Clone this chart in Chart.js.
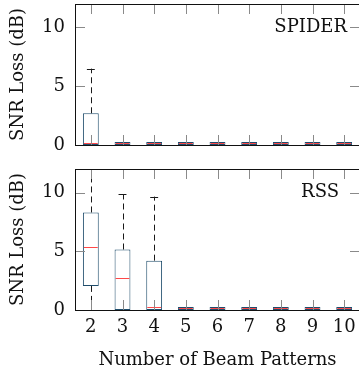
<!DOCTYPE html>
<html>
<head>
<meta charset="utf-8">
<script src="https://cdn.jsdelivr.net/npm/chart.js@4.4.1/dist/chart.umd.min.js"></script>
<style>
  html, body { margin: 0; padding: 0; background: #fff; overflow: hidden; }
  #wrap { position: relative; width: 359px; height: 372px; overflow: hidden; }
  canvas { position: absolute; left: 0; }
  #spider { top: 0; }
  #rss { top: 160px; }
</style>
</head>
<body>
<div id="wrap">
  <canvas id="spider" width="362" height="160"></canvas>
  <canvas id="rss" width="362" height="212"></canvas>
</div>
<script>
const beamCounts = ["2", "3", "4", "5", "6", "7", "8", "9", "10"];
const yTicks = [0, 5, 10];

// SPIDER box statistics (dB)
const spiderQ1     = [0, 0, 0, 0, 0, 0, 0, 0, 0];
const spiderQ3     = [2.7, 0.25, 0.25, 0.25, 0.25, 0.25, 0.25, 0.25, 0.25];
const spiderMedian = [0, 0, 0, 0, 0, 0, 0, 0, 0];
const spiderLo     = [0, 0, 0, 0, 0, 0, 0, 0, 0];
const spiderHi     = [6.5, 0.25, 0.25, 0.25, 0.25, 0.25, 0.25, 0.25, 0.25];

// RSS box statistics (dB)
const rssQ1     = [2.05, 0, 0, 0, 0, 0, 0, 0, 0];
const rssQ3     = [8.3, 5.15, 4.2, 0.25, 0.25, 0.25, 0.25, 0.25, 0.25];
const rssMedian = [5.35, 2.7, 0.22, 0, 0, 0, 0, 0, 0];
const rssLo     = [0, 0, 0, 0, 0, 0, 0, 0, 0];
const rssHi     = [13.5, 9.85, 9.65, 0.25, 0.25, 0.25, 0.25, 0.25, 0.25];

const SERIF = "'DejaVu Serif', 'Liberation Serif', serif";
Chart.defaults.font.family = SERIF;
Chart.defaults.font.size = 18;
Chart.defaults.color = "#111";

const BOX = "#1f4d6c";
const MED = "#ff4848";
const TICK = "#8a8a8a";

// medians, dashed whiskers, frame, inward ticks and panel name
const boxDecor = {
  id: "boxDecor",
  afterDatasetsDraw(chart, args, o) {
    const { ctx, chartArea: a } = chart;
    const xs = chart.scales.x, ys = chart.scales.y;
    const bars = chart.getDatasetMeta(0).data;
    const px = v => Math.round(v) + 0.5;

    ctx.save();
    ctx.beginPath();
    ctx.rect(a.left, a.top, a.right - a.left, a.bottom - a.top);
    ctx.clip();
    ctx.lineWidth = 1;
    o.median.forEach((m, i) => {
      const x = xs.getPixelForValue(i);
      const hw = bars[i].width / 2;
      const top = ys.getPixelForValue(o.q3[i]);
      const bot = ys.getPixelForValue(o.q1[i]);
      // whiskers
      ctx.strokeStyle = "#1a1a1a";
      ctx.setLineDash([6, 4]);
      if (o.hi[i] > o.q3[i]) {
        ctx.beginPath();
        ctx.moveTo(px(x), top);
        ctx.lineTo(px(x), ys.getPixelForValue(o.hi[i]));
        ctx.stroke();
      }
      if (o.lo[i] < o.q1[i]) {
        ctx.beginPath();
        ctx.moveTo(px(x), bot);
        ctx.lineTo(px(x), ys.getPixelForValue(o.lo[i]));
        ctx.stroke();
      }
      ctx.setLineDash([]);
      if (o.hi[i] > o.q3[i]) {
        const y = px(ys.getPixelForValue(o.hi[i]));
        ctx.beginPath();
        ctx.moveTo(x - hw / 2, y);
        ctx.lineTo(x + hw / 2, y);
        ctx.stroke();
      }
      // median
      ctx.strokeStyle = MED;
      const ym = Math.min(px(ys.getPixelForValue(o.median[i])), Math.floor(a.bottom) - 1.5);
      ctx.beginPath();
      ctx.moveTo(x - hw + 1, ym);
      ctx.lineTo(x + hw - 1, ym);
      ctx.stroke();
    });
    ctx.restore();

    ctx.save();
    ctx.lineWidth = 1;
    ctx.strokeStyle = TICK;
    beamCounts.forEach((_, i) => {
      const x = px(xs.getPixelForValue(i));
      ctx.beginPath();
      ctx.moveTo(x, a.top); ctx.lineTo(x, a.top + 10);
      ctx.moveTo(x, a.bottom); ctx.lineTo(x, a.bottom - 10);
      ctx.stroke();
    });
    yTicks.forEach(v => {
      const y = px(ys.getPixelForValue(v));
      ctx.beginPath();
      ctx.moveTo(a.left, y); ctx.lineTo(a.left + 10, y);
      ctx.moveTo(a.right, y); ctx.lineTo(a.right - 10, y);
      ctx.stroke();
    });
    ctx.strokeStyle = "#111";
    ctx.strokeRect(px(a.left), px(a.top), Math.round(a.right - a.left), Math.round(a.bottom - a.top));

    ctx.fillStyle = "#111";
    ctx.font = "18px " + SERIF;
    ctx.textAlign = "right";
    ctx.textBaseline = "middle";
    ctx.fillText(o.label, a.right - o.inset, ys.getPixelForValue(10));
    ctx.restore();
  }
};

function panel(id, q1, q3, median, lo, hi, label, inset, withAxis) {
  return new Chart(document.getElementById(id), {
    type: "bar",
    data: {
      labels: beamCounts,
      datasets: [{
        data: q1.map((v, i) => [v, q3[i]]),
        backgroundColor: "#ffffff",
        borderColor: BOX,
        borderWidth: 1,
        borderSkipped: false,
        barPercentage: 0.5,
        categoryPercentage: 1
      }]
    },
    options: {
      responsive: false,
      animation: false,
      devicePixelRatio: 1,
      layout: { padding: { left: 0, right: 2, top: withAxis ? 9 : 4, bottom: withAxis ? 0 : 15 } },
      plugins: {
        legend: { display: false },
        tooltip: { enabled: false },
        boxDecor: { q1, q3, median, lo, hi, label, inset }
      },
      scales: {
        x: {
          display: withAxis,
          grid: { display: false, drawTicks: false },
          border: { display: false },
          ticks: { padding: 7, maxRotation: 0 },
          title: { display: true, text: "Number of Beam Patterns", padding: { top: 0, bottom: 1 } },
          afterFit: s => { s.height = withAxis ? 62 : 0; s.paddingLeft = 0; s.paddingRight = 0; }
        },
        y: {
          min: 0,
          max: 12,
          grid: { display: false, drawTicks: false },
          border: { display: false },
          ticks: { padding: 10 },
          afterBuildTicks: s => { s.ticks = yTicks.map(v => ({ value: v })); },
          title: { display: true, text: "SNR Loss (dB)", padding: { top: 8, bottom: 0 } },
          afterFit: s => { s.width = 75; s.paddingTop = 0; s.paddingBottom = 0; }
        }
      }
    },
    plugins: [boxDecor]
  });
}

panel("spider", spiderQ1, spiderQ3, spiderMedian, spiderLo, spiderHi, "SPIDER", 13, false);
panel("rss", rssQ1, rssQ3, rssMedian, rssLo, rssHi, "RSS", 21, true);
</script>
</body>
</html>
